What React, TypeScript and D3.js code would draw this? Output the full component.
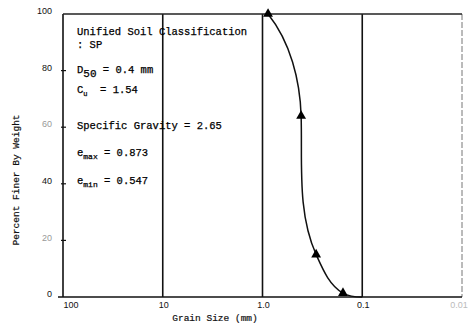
import * as d3 from 'd3'

const W = 468
const H = 329
const PLOT = { left: 63, right: 462, top: 14, bottom: 297 }

// sieve analysis (grain size in mm, percent finer)
const grainSize = [0.88, 0.41, 0.29, 0.156]
const percentFiner = [100, 64, 15, 1.4]
// curve continues to the 0.1 mm line
const curveSize = [0.88, 0.41, 0.29, 0.156, 0.1]
const curvePercent = [100, 64, 15, 1.4, 0]
// hand-drawn curve direction at each point (dx, dy on screen)
const curveTangent: [number, number][] = [[0.8, 1], [0.03, 1], [0.45, 1], [1.8, 1], [1, 0]]

const xDecades = [100, 10, 1, 0.1, 0.01]
const xTickLabels = ['100', '10', '1.0', '0.1', '0.01']
const yTicks = [0, 20, 40, 60, 80, 100]

const MONO = '"Liberation Mono", "DejaVu Sans Mono", monospace'
const SANS = '"Liberation Sans", Arial, sans-serif'

function hermitePath(pts: [number, number][], tans: [number, number][]) {
  const p = d3.path()
  const unit = ([a, b]: [number, number]) => {
    const n = Math.hypot(a, b)
    return [a / n, b / n]
  }
  p.moveTo(pts[0][0], pts[0][1])
  for (let i = 0; i < pts.length - 1; i++) {
    const [x0, y0] = pts[i]
    const [x1, y1] = pts[i + 1]
    const L = Math.hypot(x1 - x0, y1 - y0) / 3
    const t0 = unit(tans[i])
    const t1 = unit(tans[i + 1])
    p.bezierCurveTo(x0 + t0[0] * L, y0 + t0[1] * L, x1 - t1[0] * L, y1 - t1[1] * L, x1, y1)
  }
  return p.toString()
}

export default function App() {
  const x = d3.scaleLog().domain([100, 0.01]).range([PLOT.left, PLOT.right])
  const y = d3.scaleLinear().domain([0, 100]).range([PLOT.bottom, PLOT.top])

  const pts = curveSize.map((s, i) => [x(s), y(curvePercent[i])] as [number, number])
  const line = hermitePath(pts, curveTangent)
  const tri = d3.symbol().type(d3.symbolTriangle).size(42)() || ''

  const fs = 10.5
  return (
    <svg width={W} height={H} style={{ position: 'absolute', left: 0, top: 0, background: '#fff' }}>
      {/* decade grid lines */}
      {xDecades.map((d, i) => (
        <line key={d} x1={x(d)} x2={x(d)} y1={PLOT.top} y2={PLOT.bottom}
          stroke={i === xDecades.length - 1 ? '#777' : '#111'}
          strokeWidth={i === xDecades.length - 1 ? 1 : 1.6}
          strokeDasharray={i === xDecades.length - 1 ? '6,2' : undefined} />
      ))}
      <line x1={PLOT.left} x2={PLOT.right} y1={PLOT.top} y2={PLOT.top} stroke="#222" strokeWidth={1.4} />
      <line x1={PLOT.left - 5} x2={PLOT.right} y1={PLOT.bottom} y2={PLOT.bottom} stroke="#111" strokeWidth={1.6} />

      {/* y ticks */}
      {yTicks.map(t => (
        <g key={t}>
          {t > 0 && t < 100 && (
            <line x1={PLOT.left - 2} x2={PLOT.left + 3} y1={y(t)} y2={y(t)} stroke="#111" strokeWidth={1.2} />
          )}
          <text x={52} y={y(t) - 3} dy="0.35em" textAnchor="end" fontFamily={SANS} fontSize={9}
            fill={t === 60 || t === 20 ? '#999' : '#111'}>{t}</text>
        </g>
      ))}

      {/* x tick labels */}
      {xDecades.map((d, i) => (
        <text key={d} x={i === 0 ? x(d) + 8 : i === xDecades.length - 1 ? x(d) - 3 : x(d) + 1} y={308}
          textAnchor="middle" fontFamily={SANS} fontSize={9}
          fill={i === xDecades.length - 1 ? '#bbb' : '#111'}>{xTickLabels[i]}</text>
      ))}

      <text x={215} y={321} textAnchor="middle" fontFamily={MONO} fontSize={9.5} fill="#111"
        stroke="#111" strokeWidth={0.2}>Grain Size (mm)</text>
      <text transform="translate(19,180) rotate(-90)" textAnchor="middle" fontFamily={MONO} fontSize={9.5}
        fill="#111" stroke="#111" strokeWidth={0.2}>
        Percent Finer By Weight
      </text>

      {/* gradation curve */}
      <path d={line} fill="none" stroke="#111" strokeWidth={1.5} />
      {grainSize.map((s, i) => (
        <path key={s} d={tri} transform={`translate(${x(s)},${y(percentFiner[i])})`} fill="#000" />
      ))}

      {/* annotations */}
      <g fontFamily={MONO} fontSize={fs} fill="#000" stroke="#000" strokeWidth={0.25}>
        <text x={77} y={35}>Unified Soil Classification</text>
        <text x={77} y={48}>: SP</text>
        <text x={77} y={73}>D<tspan fontSize={11} dy={4}>50</tspan><tspan dy={-4}> = 0.4 mm</tspan></text>
        <text x={77} y={93}>C<tspan fontSize={7} dy={3}>u</tspan><tspan dy={-3}>{'\u00a0\u00a0= 1.54'}</tspan></text>
        <text x={77} y={129}>Specific Gravity = 2.65</text>
        <text x={77} y={156}>e<tspan fontSize={8} dy={3}>max</tspan><tspan dy={-3}> = 0.873</tspan></text>
        <text x={77} y={184}>e<tspan fontSize={8} dy={3}>min</tspan><tspan dy={-3}> = 0.547</tspan></text>
      </g>
    </svg>
  )
}
